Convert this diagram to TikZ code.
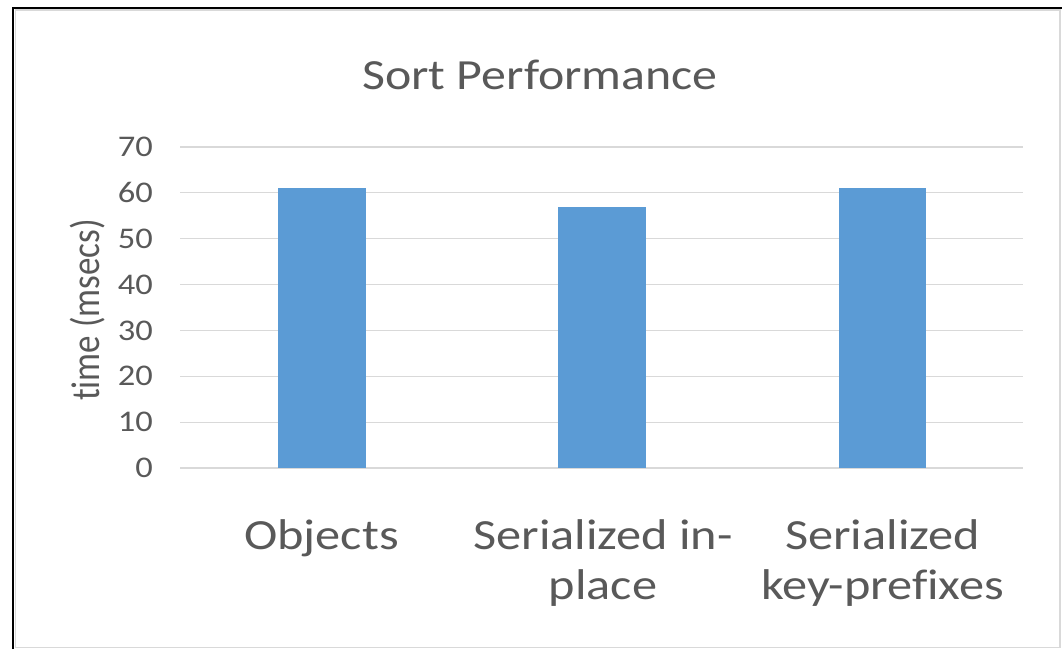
\documentclass[tikz,border=0pt]{standalone}
\usepackage{fontspec}
\setmainfont[Ligatures=NoCommon]{Carlito}
\usepackage{graphicx}
\definecolor{txtgray}{HTML}{595959}
\definecolor{gridgray}{HTML}{D9D9D9}
\definecolor{barblue}{HTML}{5B9BD5}
\tikzset{
  gridline/.style={draw=gridgray, line width=1.3pt},
  bar/.style={fill=barblue},
  ticklabel/.style={text=txtgray, anchor=east, inner sep=0pt, font=\fontsize{30}{30}\selectfont, xscale=1.15},
  catlabel/.style={text=txtgray, align=center, inner sep=0pt, font=\fontsize{43}{50}\selectfont, xscale=1.17, anchor=north},
  charttitle/.style={text=txtgray, inner sep=0pt, font=\fontsize{43}{43}\selectfont, xscale=1.16},
}
\begin{document}
\begin{tikzpicture}[x=1pt, y=-1pt]
  \useasboundingbox (0,0) rectangle (1062,649);
  \fill[white] (0,0) rectangle (1062,649);
  % chart area outline and frame
  \draw[gridgray, line width=1.5pt] (15.5,10) rectangle (1060,647.5);
  \draw[black, line width=2.4pt] (13,649) -- (13,7.8) -- (1062,7.8);
  % title
  \node[charttitle] (title) at (540,75) {Sort Performance};
  % horizontal grid and tick labels
  \foreach \v in {0,10,...,70} {
    \pgfmathsetmacro{\yy}{468-\v*4.586}
    \draw[gridline] (180,\yy) -- (1023,\yy);
    \node[ticklabel] (tick\v) at (153,\yy) {\v};
  }
  % bars
  \fill[bar] (278,468) rectangle (366,188.3);
  \fill[bar] (557.5,468) rectangle (645.5,206.6);
  \fill[bar] (839,468) rectangle (926,188.3);
  % axis title
  \node[text=txtgray, inner sep=0pt] (ytitle) at (88,310)
    {\rotatebox{90}{\scalebox{1}[1.15]{\fontsize{35}{35}\selectfont time (msecs)}}};
  % category labels
  \node[catlabel] (c1) at (321.5,519.5) {Objects};
  \node[catlabel] (c2) at (603,519.5) {Serialized in-\\place};
  \node[catlabel] (c3) at (882.5,519.5) {Serialized\\key-prefixes};
\end{tikzpicture}
\end{document}
